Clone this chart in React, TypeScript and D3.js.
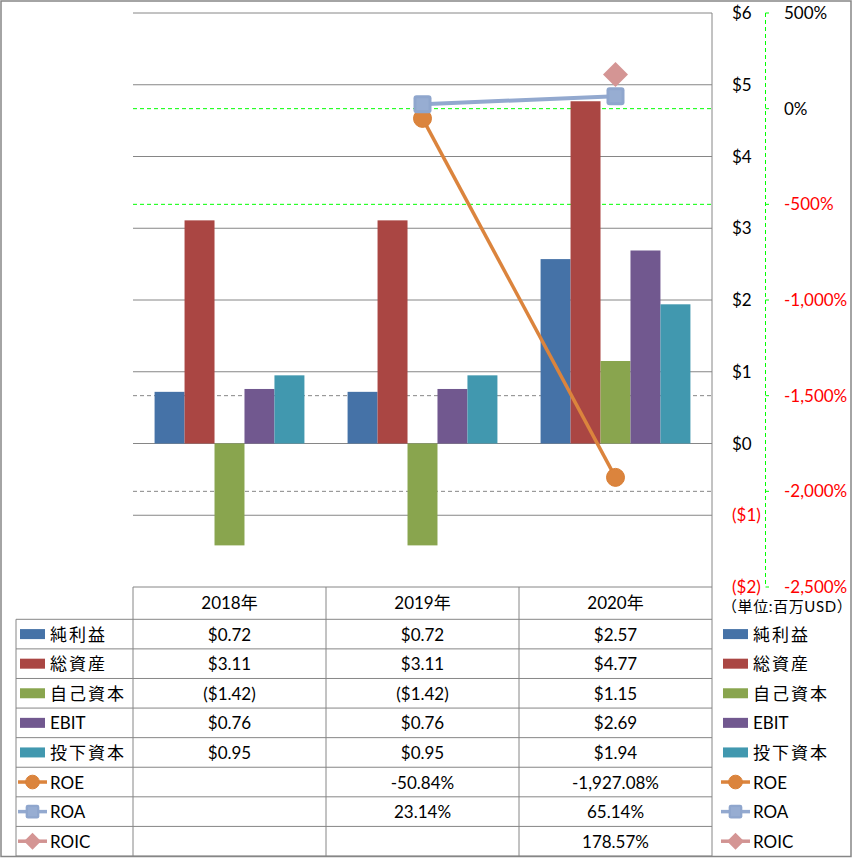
import React from "react";
import * as d3 from "d3";

const categories = ["2018年", "2019年", "2020年"];
const barSeries = ["純利益", "総資産", "自己資本", "EBIT", "投下資本"];
const netIncome = [0.72, 0.72, 2.57];
const totalAssets = [3.11, 3.11, 4.77];
const equity = [-1.42, -1.42, 1.15];
const ebit = [0.76, 0.76, 2.69];
const investedCapital = [0.95, 0.95, 1.94];
const lineSeries = ["ROE", "ROA", "ROIC"];
const roe: (number | null)[] = [null, -50.84, -1927.08];
const roa: (number | null)[] = [null, 23.14, 65.14];
const roic: (number | null)[] = [null, null, 178.57];
const dollarTicks = [-2, -1, 0, 1, 2, 3, 4, 5, 6];
const pctTicks = [500, 0, -500, -1000, -1500, -2000, -2500];
const pctGridGreen = [0, -500];
const pctGridGray = [-1500, -2000];
const unitLabel = "（単位:百万USD）";

const barColors = ["#4572A7", "#AA4643", "#89A54E", "#71588F", "#4198AF"];
const lineColors = ["#DB843D", "#93A9CF", "#D19392"];
const grid = "#868686";
const FONT = "Lato, 'Noto Sans CJK JP', sans-serif";

const W = 853, H = 858;
const plotL = 133, plotR = 712, plotT = 13, plotB = 587;
const tableLeft = 16, tableBottom = 856;

const locale = d3.formatLocale({ decimal: ".", thousands: ",", grouping: [3], currency: ["$", ""], minus: "-" });

export default function App() {
  const barData = [netIncome, totalAssets, equity, ebit, investedCapital];
  const lineData = [roe, roa, roic];

  const yL = d3.scaleLinear().domain([-2, 6]).range([plotB, plotT]);
  const yR = d3.scaleLinear().domain([-2500, 500]).range([plotB, plotT]);
  const x0 = d3.scaleBand<string>().domain(categories).range([plotL, plotR]);
  const x1 = d3.scaleBand<string>().domain(barSeries).range([0, x0.bandwidth()]).paddingOuter(0.72);
  const cx = (c: string) => (x0(c) as number) + x0.bandwidth() / 2;

  const rowH = (tableBottom - 619.3) / 8;
  const rowTop = (i: number) => 619.3 + i * rowH;
  const rowsCount = barSeries.length + lineSeries.length;

  const fmtDollar = (v: number) => (v < 0 ? `($${Math.abs(v).toFixed(2)})` : `$${v.toFixed(2)}`);
  const fmtPct = locale.format(",.2f");
  const fmtInt = locale.format(",");

  const marker = (s: number, x: number, y: number, key: string, k = 1) => {
    if (s === 0) return <circle key={key} cx={x} cy={y} r={9 * k} fill={lineColors[0]} stroke="#D97F35" strokeWidth={1} />;
    if (s === 1)
      return (
        <g key={key}>
          <rect x={x - 9 * k} y={y - 9 * k} width={18 * k} height={18 * k} rx={3 * k} fill="#8FA6CD" />
          <rect x={x - 6 * k} y={y - 6 * k} width={12 * k} height={12 * k} fill="#97ADD2" />
        </g>
      );
    const r = 12.5 * k;
    return <path key={key} d={`M${x},${y - r}L${x + r},${y}L${x},${y + r}L${x - r},${y}Z`} fill="#D49594" />;
  };

  const legendEntry = (i: number, lx: number, keyp: string) => {
    const cy = rowTop(i) + rowH / 2;
    if (i < barSeries.length) {
      const isCjk = /[^\x00-\x7F]/.test(barSeries[i]);
      return (
        <g key={keyp + i}>
          <rect x={lx} y={cy - 5} width={25} height={10} fill={barColors[i]} />
          <text x={lx + 30} y={cy + 6.5} fontSize={17} letterSpacing={isCjk ? 2 : 0} fill="#000">{barSeries[i]}</text>
        </g>
      );
    }
    const s = i - barSeries.length;
    const mx = lx + 12.5;
    return (
      <g key={keyp + i}>
        <line x1={lx - 2} x2={lx + 27} y1={cy} y2={cy} stroke={lineColors[s]} strokeWidth={3.5} />
        {marker(s, mx, cy, keyp + "m" + i, s === 2 ? 0.68 : 0.76)}
        <text x={lx + 30} y={cy + 6.5} fontSize={17} fill="#000">{lineSeries[s]}</text>
      </g>
    );
  };

  return (
    <svg width={W} height={H} style={{ position: "absolute", left: 0, top: 0, fontFamily: FONT }}>
      <rect x={0} y={0} width={W} height={H} fill="#fff" />
      {dollarTicks.map((t) => (
        <line key={"g" + t} x1={plotL} x2={plotR} y1={yL(t)} y2={yL(t)} stroke={grid} strokeWidth={1} />
      ))}
      {pctGridGreen.map((t) => (
        <line key={"gg" + t} x1={plotL} x2={plotR} y1={yR(t)} y2={yR(t)} stroke="#00FF00" strokeDasharray="4,3" strokeWidth={1} />
      ))}
      {pctGridGray.map((t) => (
        <line key={"gr" + t} x1={plotL} x2={plotR} y1={yR(t)} y2={yR(t)} stroke={grid} strokeDasharray="4,3" strokeWidth={1} />
      ))}
      {categories.map((c, ci) =>
        barSeries.map((s, si) => {
          const v = barData[si][ci];
          const x = (x0(c) as number) + (x1(s) as number);
          return (
            <rect key={c + s} x={x} y={Math.min(yL(v), yL(0))} width={x1.bandwidth()} height={Math.abs(yL(v) - yL(0))} fill={barColors[si]} />
          );
        })
      )}
      {lineData.map((arr, s) => {
        const pts = categories.map((c, i) => [cx(c), arr[i]] as [number, number | null]);
        const gen = d3.line<[number, number | null]>().defined((d) => d[1] !== null).x((d) => d[0]).y((d) => yR(d[1] as number));
        return (
          <g key={"l" + s}>
            <path d={gen(pts) || ""} fill="none" stroke={lineColors[s]} strokeWidth={s === 1 ? 4 : 3.5} />
            {pts.filter((p) => p[1] !== null).map((p, k) => marker(s, p[0], yR(p[1] as number), "mk" + s + k))}
          </g>
        );
      })}
      {dollarTicks.map((t) => (
        <text key={"tl" + t} x={732} y={yL(t) + 6} fontSize={17} fill={t < 0 ? "#FF0000" : "#000"}>
          {t < 0 ? `($${Math.abs(t)})` : `$${t}`}
        </text>
      ))}
      <line x1={765.5} x2={765.5} y1={plotT} y2={plotB} stroke="#00FF00" strokeDasharray="4,3" />
      {pctTicks.map((t) => (
        <g key={"tr" + t}>
          <line x1={765.5} x2={769} y1={yR(t)} y2={yR(t)} stroke="#00FF00" />
          <text x={784} y={yR(t) + 6} fontSize={17} fill={t < 0 ? "#FF0000" : "#000"}>
            {fmtInt(t) + "%"}
          </text>
        </g>
      ))}
      <text x={722} y={612} fontSize={15} letterSpacing={0.6} fill="#000">{unitLabel}</text>
      {d3.range(0, rowsCount + 1).map((i) => (
        <line key={"tr" + i} x1={tableLeft} x2={plotR} y1={rowTop(i)} y2={rowTop(i)} stroke={grid} />
      ))}
      <line x1={tableLeft} x2={tableLeft} y1={rowTop(0)} y2={tableBottom} stroke={grid} />
      {categories.map((c) => (
        <line key={"vc" + c} x1={x0(c) as number} x2={x0(c) as number} y1={plotB} y2={tableBottom} stroke={grid} />
      ))}
      <line x1={plotR} x2={plotR} y1={plotT} y2={tableBottom} stroke={grid} />
      {categories.map((c) => (
        <text key={"h" + c} x={cx(c)} y={(plotB + rowTop(0)) / 2 + 6} fontSize={17} textAnchor="middle" fill="#000">{c}</text>
      ))}
      {barSeries.map((s, si) =>
        categories.map((c, ci) => (
          <text key={"tv" + s + c} x={cx(c)} y={rowTop(si) + rowH / 2 + 6.5} fontSize={17} textAnchor="middle" fill="#000">
            {fmtDollar(barData[si][ci])}
          </text>
        ))
      )}
      {lineSeries.map((s, li) =>
        categories.map((c, ci) => {
          const v = lineData[li][ci];
          if (v === null) return null;
          return (
            <text key={"tp" + s + c} x={cx(c)} y={rowTop(barSeries.length + li) + rowH / 2 + 6.5} fontSize={17} textAnchor="middle" fill="#000">
              {fmtPct(v) + "%"}
            </text>
          );
        })
      )}
      {d3.range(0, rowsCount).map((i) => legendEntry(i, 20, "L"))}
      {d3.range(0, rowsCount).map((i) => legendEntry(i, 723, "R"))}
      <rect x={1} y={1} width={850} height={855.5} fill="none" stroke={grid} strokeWidth={1.5} />
    </svg>
  );
}
